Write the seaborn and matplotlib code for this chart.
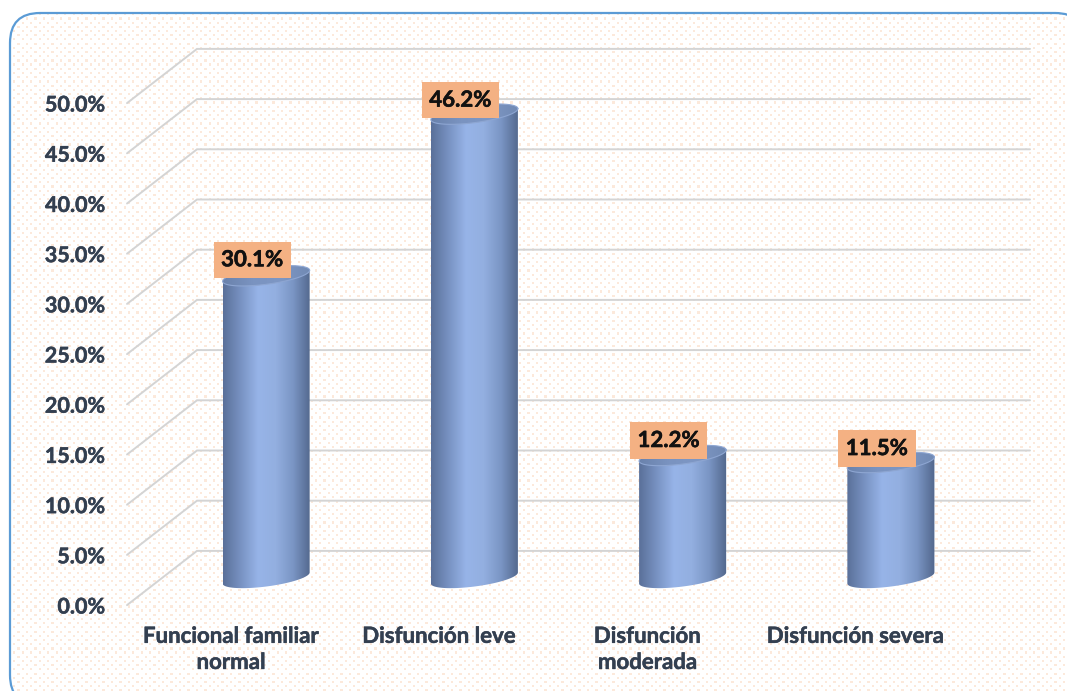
import numpy as np
import pandas as pd
import seaborn as sns
import matplotlib.pyplot as plt
import matplotlib.patheffects as pe
from matplotlib.colors import LinearSegmentedColormap
from matplotlib.patches import FancyBboxPatch
from matplotlib.path import Path
from matplotlib.transforms import ScaledTranslation

categories = ['Funcional familiar\nnormal', 'Disfunción leve', 'Disfunción\nmoderada', 'Disfunción severa']
values = [30.1, 46.2, 12.2, 11.5]
y_ticks = [0, 5, 10, 15, 20, 25, 30, 35, 40, 45, 50]

W, H = 1067, 691
TEXT = '#333f50'
depth_x = 0.168
depth_y = 2.7

sns.set_style('white')
plt.rcParams['font.family'] = ['Lato', 'DejaVu Sans']

fig = plt.figure(figsize=(W / 100, H / 100), dpi=100, facecolor='white')

# dotted panel with rounded blue border, it runs off the right and bottom edges
bg = fig.add_axes([0, 0, 1, 1])
bg.set_xlim(0, W)
bg.set_ylim(H, 0)
bg.axis('off')
yy, xx = np.mgrid[0:H, 0:W]
tile = np.ones((H, W, 3))
dots = ((xx % 8.5 < 2.2) & (yy % 8.4 < 2.2)) | (((xx + 4.25) % 8.5 < 2.2) & ((yy + 4.2) % 8.4 < 2.2))
tile[dots] = [0.99, 0.915, 0.86]
# a barely-there face, agg mangles curves of unfilled paths that leave the canvas
panel = FancyBboxPatch((40, 43), 1015, 632, boxstyle='round,pad=30,rounding_size=30', fc=(1, 1, 1, 0.01),
                       ec='#5b9bd5', lw=1.6)
bg.add_patch(panel)
im = bg.imshow(tile, extent=(0, W, H, 0), aspect='auto', zorder=0, interpolation='nearest')
im.set_clip_path(panel)
bg.set_xlim(0, W)
bg.set_ylim(H, 0)

ax = fig.add_axes([162 / W, 1 - 578 / H, 833 / W, 502 / H])
ax.patch.set_alpha(0)

df = pd.DataFrame({'categoria': categories, 'valor': values})
sns.barplot(data=df, x='categoria', y='valor', width=0.418, ax=ax)
ax.set_xlabel('')
ax.set_ylabel('')
sns.despine(ax=ax, left=True, bottom=True)

# floor and back wall lines
for v in y_ticks:
    ax.plot([-0.5 - depth_x, -0.5 + depth_x, 3.5 + depth_x], [v - depth_y, v + depth_y, v + depth_y],
            color='#d4d4d4', lw=1.4, clip_on=False, zorder=1, solid_joinstyle='miter')

side_cmap = LinearSegmentedColormap.from_list('side', ['#5a7099', '#7892c2', '#97b4e8', '#93afe0', '#7a95c4', '#52678c'])
cap_cmap = LinearSegmentedColormap.from_list('cap', ['#6a82ac', '#7a93c0', '#7e97c4', '#7089b3'])
gradient = np.linspace(0, 1, 256).reshape(1, -1)

b = 0.85
tilt = 0.55
t = np.linspace(0, 2 * np.pi, 120)

for bar in list(ax.patches):
    bar.set_visible(False)
    x0, w, top = bar.get_x(), bar.get_width(), bar.get_height()
    cx, a = x0 + w / 2, w / 2
    ex, ey = cx + a * np.cos(t), b * np.sin(t) + tilt * np.cos(t)

    lower = np.linspace(np.pi, 2 * np.pi, 60)
    lx, ly = cx + a * np.cos(lower), b * np.sin(lower) + tilt * np.cos(lower)
    side = np.column_stack([np.r_[lx, cx + a, cx - a, lx[0]], np.r_[ly, top + tilt, top - tilt, ly[0]]])
    im_side = ax.imshow(gradient, extent=(x0, x0 + w, -2, top + 2), aspect='auto', cmap=side_cmap, zorder=3)
    im_side.set_clip_path(Path(side, closed=True), transform=ax.transData)
    im_side.set_clip_box(fig.bbox)

    cap = np.column_stack([ex, top + ey])
    im_cap = ax.imshow(gradient, extent=(x0, x0 + w, top - 2, top + 2), aspect='auto', cmap=cap_cmap, zorder=4)
    im_cap.set_clip_path(Path(cap, closed=True), transform=ax.transData)
    im_cap.set_clip_box(fig.bbox)
    ax.plot(cap[:, 0], cap[:, 1], color='#8ea6d2', lw=0.8, zorder=5, clip_on=False)

ax.set_xlim(-0.5, 3.5)
ax.set_ylim(0, 50)

ax.set_yticks(y_ticks)
ax.set_yticklabels([f'{v:.1f}%' for v in y_ticks])
ax.tick_params(axis='y', length=0, pad=16, labelsize=15.5, labelcolor=TEXT)
ax.tick_params(axis='x', length=0, pad=15, labelsize=16, labelcolor=TEXT)
shift = ScaledTranslation(-0.35, -0.27, fig.dpi_scale_trans)
heavier = [pe.withStroke(linewidth=0.35, foreground=TEXT)]
for lab in ax.get_yticklabels() + ax.get_xticklabels():
    lab.set_fontweight('bold')
    lab.set_transform(lab.get_transform() + shift)
    lab.set_path_effects(heavier)
for lab in ax.get_xticklabels():
    lab.set_linespacing(1.3)

for i, (v, dy) in enumerate(zip(values, [16, 14, 15, 14])):
    note = ax.annotate(f'{v:.1f}%', (i, v), xytext=(-14 * 0.72, dy * 0.72), textcoords='offset points',
                       ha='center', va='center', fontsize=16, fontweight='bold', color='#111111', zorder=6,
                       bbox=dict(boxstyle='square,pad=0.34', fc='#f4b183', ec='none'))
    note.set_path_effects([pe.withStroke(linewidth=0.4, foreground='#111111')])

fig.savefig('out.png', dpi=100)
